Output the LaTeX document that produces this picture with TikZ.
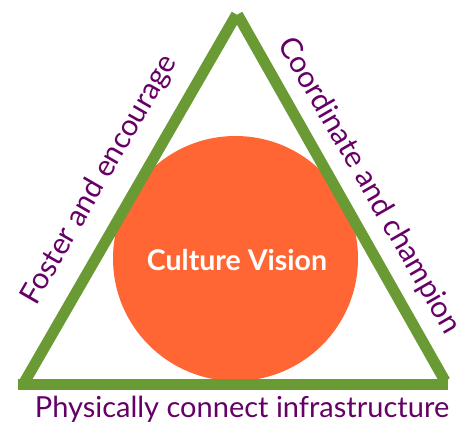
\documentclass[tikz,border=0pt]{standalone}
\usepackage{fontspec}
\setmainfont{Lato}
\definecolor{edgegreen}{RGB}{106,154,52}
\definecolor{visionorange}{RGB}{255,102,51}
\definecolor{labelpurple}{RGB}{102,0,102}
\begin{document}
\begin{tikzpicture}[x=1pt,y=-1pt,
  side/.style={draw=edgegreen, line width=11pt, line cap=butt},
  sidelabel/.style={text=labelpurple, font=\fontsize{29}{29}\selectfont, inner sep=0pt},
  slantlabel/.style={sidelabel, font=\fontsize{29.8}{29.8}\selectfont},
  hub/.style={circle, fill=visionorange, minimum size=245pt, inner sep=0pt},
  hubtext/.style={text=white, font=\bfseries\fontsize{28.5}{28.5}\selectfont, inner sep=0pt}]
\useasboundingbox (0,0) rectangle (460,424);
\fill[white] (0,0) rectangle (460,424);

% central circle
\node[hub] (vision) at (235.5,258.5) {};
\node[hubtext] (visiontext) at (237,260) {Culture Vision};

% triangle corners
\coordinate (apexL) at (236.5,14.5);
\coordinate (apexR) at (237.5,14.5);
\coordinate (baseL) at (24.5,382);
\coordinate (baseR) at (445,381);
\coordinate (bottomL) at (18,384.5);
\coordinate (bottomR) at (448,384.5);

% triangle sides
\draw[side] (baseL) -- (apexL);
\draw[side] (apexR) -- (baseR);
\draw[side] (bottomL) -- (bottomR);

% side labels
\node[slantlabel, rotate=60] (foster) at (99.5,180) {Foster and encourage};
\node[slantlabel, rotate=-60] (coordinate) at (369,186) {Coordinate and champion};
\node[sidelabel, anchor=base] (connect) at (242,417) {Physically connect infrastructure};
\end{tikzpicture}
\end{document}
